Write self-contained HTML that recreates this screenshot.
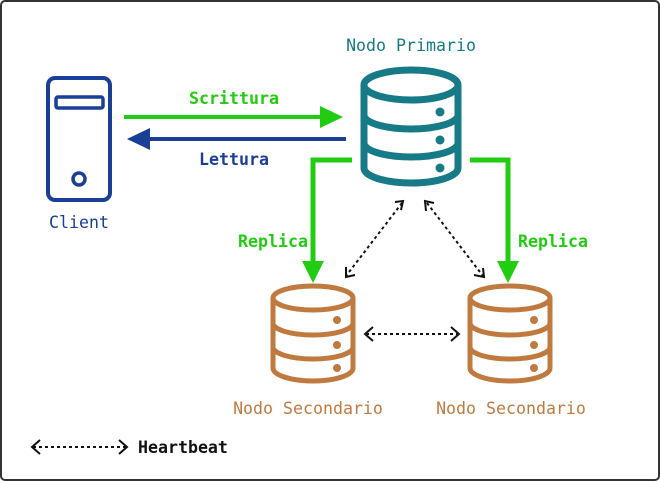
<!DOCTYPE html>
<html><head><meta charset="utf-8"><style>
html,body{margin:0;padding:0;background:#fff}
svg{display:block}
text{font-family:"DejaVu Sans Mono","Liberation Mono",monospace;font-size:16.6px}
.b{font-weight:bold}
</style></head><body>
<svg width="660" height="481" viewBox="0 0 660 481" xmlns="http://www.w3.org/2000/svg">
<rect x="1" y="1" width="658" height="479" rx="4" fill="#fff" stroke="#333" stroke-width="2"/>

<!-- Client -->
<rect x="48" y="78" width="62" height="122" rx="7" fill="none" stroke="#1a3f96" stroke-width="4"/>
<rect x="56" y="97" width="47" height="11" rx="2" fill="none" stroke="#1a3f96" stroke-width="3.5"/>
<circle cx="79" cy="179" r="6" fill="none" stroke="#1a3f96" stroke-width="3.5"/>
<text x="79" y="228" text-anchor="middle" fill="#1a3f96">Client</text>

<!-- Primary DB -->
<g fill="none" stroke="#167b87" stroke-width="7">
<path d="M364 85 V168 A47 15 0 0 0 458 168 V85"/>
<ellipse cx="411" cy="85" rx="47" ry="15"/>
<path d="M364 115 A47 14 0 0 0 458 115"/>
<path d="M364 143 A47 14 0 0 0 458 143"/>
</g>
<g fill="#167b87"><circle cx="440" cy="112" r="4.5"/><circle cx="440" cy="140" r="4.5"/><circle cx="440" cy="168" r="4.5"/></g>
<text x="411" y="51" text-anchor="middle" fill="#167b87">Nodo Primario</text>

<!-- Secondary DBs -->
<g fill="none" stroke="#c07a3f" stroke-width="5">
<path d="M273 298 V368 A40 13 0 0 0 353 368 V298"/>
<ellipse cx="313" cy="298" rx="40" ry="12"/>
<path d="M273 323 A40 12 0 0 0 353 323"/>
<path d="M273 347 A40 12 0 0 0 353 347"/>
</g>
<g fill="#c07a3f"><circle cx="337" cy="320" r="4"/><circle cx="337" cy="345" r="4"/><circle cx="337" cy="368" r="4"/></g>
<g fill="none" stroke="#c07a3f" stroke-width="5">
<path d="M470 298 V368 A40 13 0 0 0 550 368 V298"/>
<ellipse cx="510" cy="298" rx="40" ry="12"/>
<path d="M470 323 A40 12 0 0 0 550 323"/>
<path d="M470 347 A40 12 0 0 0 550 347"/>
</g>
<g fill="#c07a3f"><circle cx="534" cy="320" r="4"/><circle cx="534" cy="345" r="4"/><circle cx="534" cy="368" r="4"/></g>
<text x="308" y="414" text-anchor="middle" fill="#c07a3f">Nodo Secondario</text>
<text x="511" y="414" text-anchor="middle" fill="#c07a3f">Nodo Secondario</text>

<!-- Scrittura / Lettura -->
<line x1="124" y1="117" x2="322" y2="117" stroke="#22cc11" stroke-width="4"/>
<polygon points="343,117 320,106 320,128" fill="#22cc11"/>
<text x="234" y="104" text-anchor="middle" class="b" fill="#22cc11">Scrittura</text>
<line x1="148" y1="139" x2="346" y2="139" stroke="#1a3f96" stroke-width="4"/>
<polygon points="127,139 150,128 150,150" fill="#1a3f96"/>
<text x="234" y="165" text-anchor="middle" class="b" fill="#1a3f96">Lettura</text>

<!-- Replica -->
<path d="M352 160 H313 V264" fill="none" stroke="#22cc11" stroke-width="5"/>
<polygon points="313,283 302,261 324,261" fill="#22cc11"/>
<path d="M470 160 H508 V264" fill="none" stroke="#22cc11" stroke-width="5"/>
<polygon points="508,283 497,261 519,261" fill="#22cc11"/>
<text x="273" y="247" text-anchor="middle" class="b" fill="#22cc11">Replica</text>
<text x="553" y="247" text-anchor="middle" class="b" fill="#22cc11">Replica</text>

<!-- Heartbeats -->
<g fill="none" stroke="#111" stroke-width="2">
<line x1="402" y1="203" x2="346" y2="276" stroke-dasharray="3,3"/>
<path d="M395 202 L403 201 L401 210"/>
<path d="M346 267 L346 277 L355 275"/>
<line x1="427" y1="203" x2="483" y2="276" stroke-dasharray="3,3"/>
<path d="M426 211 L425 201 L434 203"/>
<path d="M474 275 L484 277 L483 268"/>
<line x1="366" y1="334" x2="458" y2="334" stroke-dasharray="3,3"/>
<path d="M373 327 L365 334 L373 341"/>
<path d="M451 327 L459 334 L451 341"/>
<line x1="33" y1="447" x2="126" y2="447" stroke-dasharray="3,3"/>
<path d="M40 440 L32 447 L40 454"/>
<path d="M119 440 L127 447 L119 454"/>
</g>
<text x="138" y="453" class="b" fill="#111">Heartbeat</text>
</svg>
</body></html>
